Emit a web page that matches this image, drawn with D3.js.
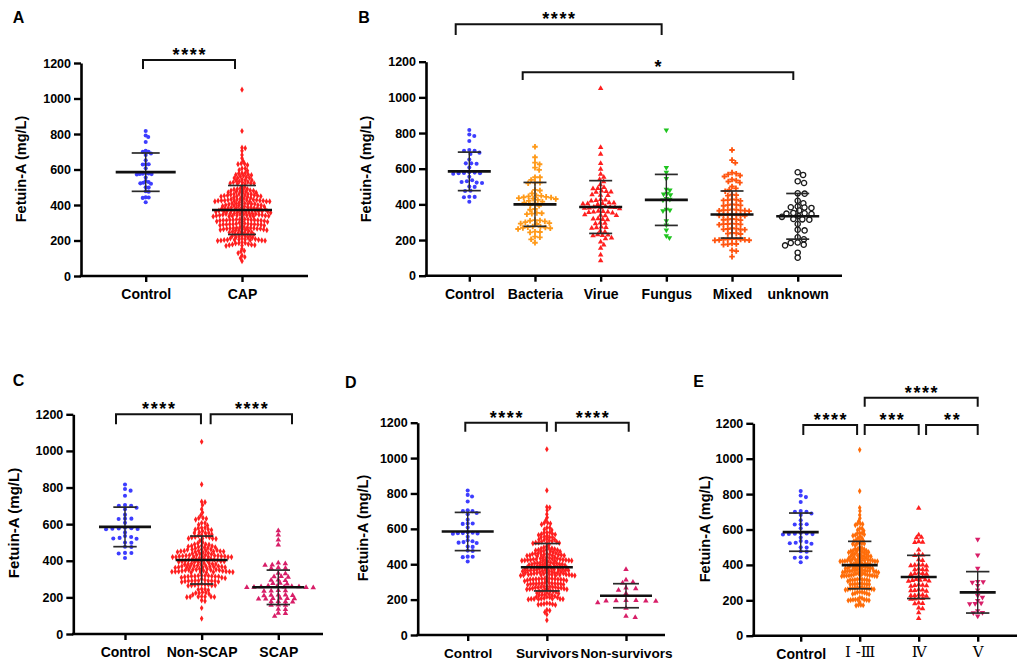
<!DOCTYPE html>
<html lang="en">
<head>
<meta charset="UTF-8">
<title>Fetuin-A levels by group</title>
<script src="https://d3js.org/d3.v7.min.js"></script>
<style>
  body { margin: 0; background: #fff; }
  svg { display: block; font-family: Arial, "Liberation Sans", sans-serif; }
</style>
</head>
<body>
<svg width="1021" height="663"></svg>
<script>
// ---- values (mg/L) ----
const yTicks = [0, 200, 400, 600, 800, 1000, 1200];

const control = [817, 792, 783, 755, 705, 700, 700, 690, 682, 652, 630, 630, 628, 607, 580, 578, 576,
  575, 574, 572, 555, 535, 530, 525, 522, 520, 500, 498, 477, 475, 443, 442, 440, 415];

const bacteria = [723, 664, 634, 625, 606, 593, 552, 552, 537, 522, 522, 518, 481, 478, 462, 450, 448,
  445, 442, 440, 438, 435, 432, 430, 425, 420, 415, 410, 405, 396, 392, 374, 370, 352, 350, 348, 345,
  312, 310, 308, 305, 300, 295, 292, 290, 276, 274, 272, 270, 268, 266, 262, 247, 245, 243, 219, 215, 204, 185];

const virue = [1050, 720, 682, 630, 597, 570, 552, 540, 527, 510, 495, 490, 488, 475, 472, 470, 468, 455,
  452, 450, 428, 425, 422, 420, 410, 408, 406, 404, 402, 400, 388, 386, 384, 383, 382, 380, 378, 376,
  362, 360, 358, 357, 355, 352, 342, 340, 338, 336, 320, 318, 316, 314, 296, 294, 292, 273, 271, 269,
  266, 250, 246, 230, 228, 226, 224, 212, 208, 190, 172, 154, 116, 84];

const fungus = [817, 606, 580, 544, 485, 480, 462, 458, 454, 432, 428, 424, 372, 368, 364, 308, 284, 256, 224, 212];

const mixed = [705, 648, 633, 578, 572, 568, 562, 556, 540, 534, 528, 522, 500, 490, 482, 474, 455, 452,
  449, 428, 426, 424, 422, 420, 400, 398, 396, 394, 392, 372, 370, 368, 367, 366, 365, 364, 362, 344,
  342, 341, 340, 339, 338, 336, 318, 316, 315, 314, 312, 292, 291, 290, 289, 288, 286, 266, 264, 262,
  260, 259, 258, 240, 238, 236, 234, 206, 205, 204, 203, 202, 201, 200, 199, 198, 180, 178, 176, 174,
  142, 138, 107];

const unknownGrp = [580, 565, 530, 520, 462, 460, 420, 406, 388, 384, 382, 380, 365, 352, 350, 348, 346,
  335, 330, 318, 316, 314, 290, 258, 254, 215, 204, 186, 184, 174, 170, 129, 101];

const scap = [565, 541, 514, 486, 388, 384, 378, 376, 362, 360, 358, 332, 330, 315, 313, 311, 296, 294,
  292, 278, 276, 274, 262, 261, 260, 259, 258, 257, 256, 255, 254, 253, 238, 236, 235, 234, 214, 213,
  212, 211, 210, 196, 195, 194, 193, 192, 191, 178, 177, 176, 175, 159, 158, 157, 136, 134, 114, 112, 98];

const nonSurvivors = [371, 311, 298, 294, 266, 262, 254, 235, 196, 195, 194, 193, 192, 191, 183, 151, 107, 100];

const stageIV = [720, 569, 556, 554, 531, 529, 527, 484, 458, 456, 454, 430, 426, 402, 400, 398, 396, 394,
  377, 375, 373, 371, 354, 352, 350, 348, 346, 332, 330, 318, 316, 314, 312, 310, 308, 288, 286, 284,
  282, 280, 260, 258, 256, 254, 252, 232, 230, 228, 226, 224, 212, 210, 208, 206, 185, 183, 181, 157,
  153, 130, 98];

const stageV = [545, 456, 381, 306, 304, 302, 283, 258, 226, 217, 198, 184, 182, 180, 140, 131, 129, 111];

// the whole CAP cohort, and the subgroups taken out of it
const cap = [].concat(bacteria, virue, fungus, mixed, unknownGrp);
const nonScap = without(cap, scap);
const survivors = without(cap, nonSurvivors);
const stageI_III = without(cap, stageIV.concat(stageV));

// mean and SD as drawn in the figure
const catsA = ["Control", "CAP"];
const meansA = [585, 372], sdsA = [108, 138];
const catsB = ["Control", "Bacteria", "Virue", "Fungus", "Mixed", "unknown"];
const meansB = [585, 400, 385, 425, 343, 333], sdsB = [108, 123, 148, 143, 132, 128];
const catsC = ["Control", "Non-SCAP", "SCAP"];
const meansC = [585, 404, 255], sdsC = [108, 131, 94];
const catsD = ["Control", "Survivors", "Non-survivors"];
const meansD = [585, 383, 222], sdsD = [108, 134, 68];
const catsE = ["Control", "Ⅰ -Ⅲ", "Ⅳ", "Ⅴ"];
const meansE = [585, 399, 332, 245], sdsE = [108, 134, 122, 117];

// remove, for each taken value, the closest one still left in the pool
function without(pool, taken) {
  const rest = pool.slice();
  taken.forEach(v => {
    let best = 0;
    rest.forEach((r, i) => { if (Math.abs(r - v) < Math.abs(rest[best] - v)) best = i; });
    rest.splice(best, 1);
  });
  return rest;
}

const BLUE = "#3d3dff", RED = "#ff1f1f", ORANGE = "#ff9a1a", GREEN = "#1fc41f",
      MIXED = "#ff5510", CRIMSON = "#d81e68", STAGE = "#ff6d0a";

const marks = {
  dot:     { type: d3.symbolCircle, size: 13 },
  diamond: { type: d3.symbolDiamond, size: 11 },
  cross:   { type: d3.symbolCross, size: 17 },
  tri:     { type: d3.symbolTriangle, size: 13 },
  triDown: { type: d3.symbolTriangle, size: 13, rotate: 180 },
  ring:    { type: d3.symbolCircle, size: 22, open: true }
};

const panels = [
  { letter: "A", cats: catsA, groups: [control, cap], means: meansA, sds: sdsA,
    marks: ["dot", "diamond"], colors: [BLUE, RED],
    axisX: 81, yTop: 63, yBot: 276, xFirst: 145.7, xLast: 242, axisRight: 308,
    letterPos: [12.7, 22.7], titlePos: [26.3, 169], sx: [3.0, 3.3], sy: 3.0, meanHalf: 30, capHalf: 14,
    labelSize: 14,
    brackets: [{ a: 0, b: 1, dxA: -2.7, dxB: -7, yOff: -3, drop: 9, label: "****" }] },
  { letter: "B", cats: catsB, groups: [control, bacteria, virue, fungus, mixed, unknownGrp], means: meansB, sds: sdsB,
    marks: ["dot", "cross", "tri", "triDown", "cross", "ring"], colors: [BLUE, ORANGE, RED, GREEN, MIXED, "#1a1a1a"],
    axisX: 426, yTop: 61.7, yBot: 275.7, xFirst: 469.3, xLast: 797.7, axisRight: 842,
    letterPos: [358.3, 22.7], titlePos: [370.8, 169], sx: [5.4, 5.0, 4.8, 3.6, 4.3, 7.0], sy: 4.2, meanHalf: 21.5, capHalf: 11.5,
    labelSize: 14,
    brackets: [{ a: 0, b: 3, dxA: -13.6, dxB: -4.7, yOff: -37.4, drop: 10.7, label: "****" },
               { a: 1, b: 5, dxA: -12.3, dxB: -4.4, yOff: 10.6, drop: 7.7, label: "*" }] },
  { letter: "C", cats: catsC, groups: [control, nonScap, scap], means: meansC, sds: sdsC,
    marks: ["dot", "diamond", "tri"], colors: [BLUE, RED, CRIMSON],
    axisX: 73.3, yTop: 414.3, yBot: 634, xFirst: 125, xLast: 278.3, axisRight: 323,
    letterPos: [12.7, 386], titlePos: [18.8, 523], sx: [6.4, 3.4, 7.2], sy: 3.4, meanHalf: 26, capHalf: 11.7,
    labelSize: 14,
    brackets: [{ a: 0, b: 1, dxA: -9, dxB: -0.7, yOff: 0, drop: 10, label: "****" },
               { a: 1, b: 2, dxA: 9, dxB: 13.7, yOff: 0, drop: 10, label: "****" }] },
  { letter: "D", cats: catsD, groups: [control, survivors, nonSurvivors], means: meansD, sds: sdsD,
    marks: ["dot", "diamond", "tri"], colors: [BLUE, RED, CRIMSON],
    axisX: 417.7, yTop: 422.7, yBot: 635, xFirst: 467.7, xLast: 626, axisRight: 665,
    letterPos: [345, 388.3], titlePos: [368, 528], sx: [5.0, 2.9, 10], sy: 3.2, meanHalf: 26, capHalf: 13,
    labelSize: 13.6,
    brackets: [{ a: 0, b: 1, dxA: -2.4, dxB: 0, yOff: 0, drop: 9, label: "****" },
               { a: 1, b: 2, dxA: 9, dxB: 2.7, yOff: 0, drop: 9, label: "****" }] },
  { letter: "E", cats: catsE, groups: [control, stageI_III, stageIV, stageV], means: meansE, sds: sdsE,
    marks: ["dot", "diamond", "tri", "triDown"], colors: [BLUE, STAGE, RED, CRIMSON],
    axisX: 753.3, yTop: 423.3, yBot: 635.7, xFirst: 800.7, xLast: 977.7, axisRight: 1017,
    letterPos: [693.3, 386.7], titlePos: [709.7, 529], sx: [6.0, 2.4, 4.0, 5.5], sy: 3.2, meanHalf: 18, capHalf: 11.7,
    labelSize: 14,
    brackets: [{ a: 0, b: 1, dxA: 2.6, dxB: -2.6, yOff: 1.7, drop: 10, label: "****" },
               { a: 1, b: 2, dxA: 5, dxB: 0, yOff: 1.7, drop: 10, label: "***" },
               { a: 2, b: 3, dxA: 7.4, dxB: 0, yOff: 1.7, drop: 10, label: "**" },
               { a: 1, b: 3, dxA: 5, dxB: 0, yOff: -25.6, drop: 9, label: "****" }] }
];

// swarm layout: spread points sideways so none overlap (elliptical spacing sx, sy)
function swarm(vals, y, sx, sy) {
  const pts = vals.map(v => ({ v: v, py: y(v) })).sort((a, b) => a.py - b.py);
  const placed = [];
  pts.forEach(p => {
    const near = placed.filter(q => Math.abs(q.py - p.py) < sy);
    const cands = [0];
    near.forEach(q => {
      const t = (p.py - q.py) / sy;
      const w = sx * Math.sqrt(1 - t * t);
      cands.push(q.dx + w, q.dx - w);
    });
    cands.sort((a, b) => Math.abs(a) - Math.abs(b));
    p.dx = cands.find(c => near.every(q => {
      const u = (c - q.dx) / sx, t = (p.py - q.py) / sy;
      return u * u + t * t >= 0.999;
    }));
    placed.push(p);
  });
  return placed;
}

const svg = d3.select("svg");

panels.forEach(P => {
  const g = svg.append("g");
  const y = d3.scaleLinear().domain([0, 1200]).range([P.yBot, P.yTop]);
  const x = d3.scalePoint().domain(P.cats).range([P.xFirst, P.xLast]);

  // panel letter
  g.append("text").attr("x", P.letterPos[0]).attr("y", P.letterPos[1])
    .attr("font-size", 16).attr("font-weight", "bold").text(P.letter);

  // y axis title
  g.append("text")
    .attr("transform", `translate(${P.titlePos[0]},${P.titlePos[1]}) rotate(-90)`)
    .attr("text-anchor", "middle").attr("font-size", P.letter === "C" ? 15 : 14.5)
    .attr("font-weight", "bold").text("Fetuin-A (mg/L)");

  // points
  P.groups.forEach((vals, i) => {
    const m = marks[P.marks[i]];
    const cx = x(P.cats[i]);
    const sym = d3.symbol(m.type, m.size)();
    g.append("g").selectAll("path")
      .data(swarm(vals, y, P.sx[i], P.sy))
      .join("path")
      .attr("d", sym)
      .attr("transform", d => `translate(${cx + d.dx},${d.py})` + (m.rotate ? ` rotate(${m.rotate})` : ""))
      .attr("fill", m.open ? "#fff" : P.colors[i])
      .attr("stroke", m.open ? P.colors[i] : "none")
      .attr("stroke-width", m.open ? 1.3 : 0);
  });

  // mean and SD bars
  P.cats.forEach((c, i) => {
    const cx = x(c), mu = P.means[i], sd = P.sds[i];
    const eb = g.append("g").attr("stroke", "#2a2a2a").attr("fill", "none");
    eb.append("line").attr("x1", cx).attr("x2", cx)
      .attr("y1", y(mu + sd)).attr("y2", y(mu - sd)).attr("stroke-width", 1.4);
    [mu + sd, mu - sd].forEach(v => eb.append("line")
      .attr("x1", cx - P.capHalf).attr("x2", cx + P.capHalf)
      .attr("y1", y(v)).attr("y2", y(v)).attr("stroke-width", 1.7));
    eb.append("line").attr("x1", cx - P.meanHalf).attr("x2", cx + P.meanHalf)
      .attr("y1", y(mu)).attr("y2", y(mu)).attr("stroke", "#111").attr("stroke-width", 2.6);
  });

  // y axis
  const ya = g.append("g").attr("transform", `translate(${P.axisX},0)`)
    .call(d3.axisLeft(y).tickValues(yTicks).tickFormat(d3.format("d"))
      .tickSize(7).tickPadding(3).tickSizeOuter(0));
  ya.select(".domain").attr("stroke", "#000").attr("stroke-width", 2.6);
  ya.selectAll(".tick line").attr("stroke", "#000").attr("stroke-width", 2.4);
  ya.selectAll(".tick text").attr("font-size", 12.5).attr("font-weight", "bold")
    .attr("font-family", "Arial, 'Liberation Sans', sans-serif").attr("fill", "#000");

  // x axis
  const xa = g.append("g").attr("transform", `translate(0,${P.yBot})`)
    .call(d3.axisBottom(x).tickSize(6).tickPadding(7).tickSizeOuter(0));
  xa.select(".domain").remove();
  xa.append("line").attr("x1", P.axisX - 1.3).attr("x2", P.axisRight)
    .attr("stroke", "#000").attr("stroke-width", 2.6);
  xa.selectAll(".tick line").attr("stroke", "#000").attr("stroke-width", 2.4);
  xa.selectAll(".tick text").attr("fill", "#000")
    .each(function (d) {
      const roman = /[Ⅰ-Ⅻ]/.test(d);
      d3.select(this)
        .attr("font-size", roman ? 15 : P.labelSize)
        .attr("font-weight", roman ? "normal" : "bold")
        .attr("y", roman ? 11 : 13)
        .attr("font-family", roman ? "'DejaVu Serif', 'Noto Sans CJK SC', serif" : "Arial, 'Liberation Sans', sans-serif");
    });

  // significance brackets
  P.brackets.forEach(b => {
    const x1 = x(P.cats[b.a]) + b.dxA, x2 = x(P.cats[b.b]) + b.dxB;
    const by = P.yTop + b.yOff;
    g.append("path")
      .attr("d", `M${x1},${by + b.drop}V${by}H${x2}V${by + b.drop}`)
      .attr("fill", "none").attr("stroke", "#111").attr("stroke-width", 2);
    g.append("text").attr("x", (x1 + x2) / 2 + 0.8).attr("y", by + 1)
      .attr("text-anchor", "middle").attr("font-size", 18).attr("font-weight", "bold")
      .attr("letter-spacing", 1.6).text(b.label);
  });
});
</script>
</body>
</html>
